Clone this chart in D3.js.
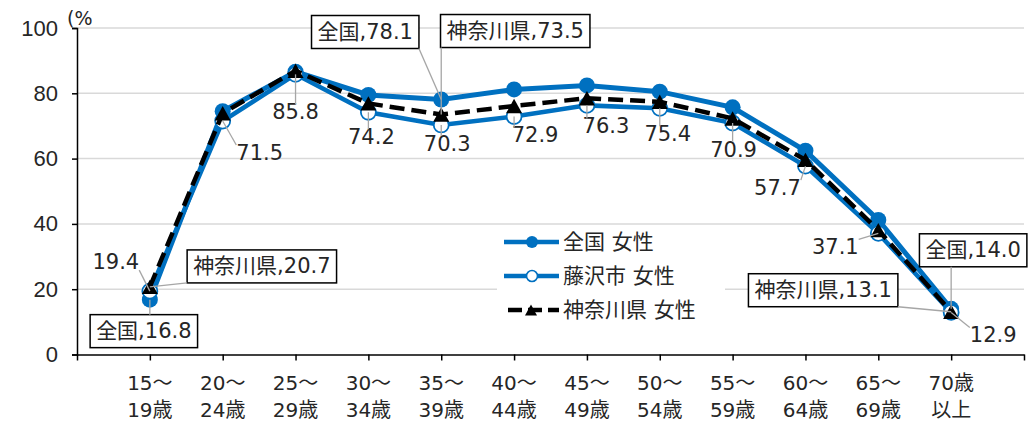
<!DOCTYPE html>
<html>
<head>
<meta charset="utf-8">
<script src="https://cdn.jsdelivr.net/npm/d3@7"></script>
<style>
  body { margin: 0; background: #fff; }
  svg { display: block; font-family: "DejaVu Sans", "Noto Sans CJK JP", sans-serif; }
</style>
</head>
<body>
<div id="chart"></div>
<script>
'use strict';

// age groups (two lines each)
var categories = ["15～\n19歳", "20～\n24歳", "25～\n29歳", "30～\n34歳", "35～\n39歳", "40～\n44歳",
  "45～\n49歳", "50～\n54歳", "55～\n59歳", "60～\n64歳", "65～\n69歳", "70歳\n以上"];

// labour force participation rate, women (%)
var zenkoku   = [16.8, 74.5, 86.6, 79.5, 78.1, 81.2, 82.4, 80.5, 75.7, 62.4, 41.2, 14.0];
var fujisawa  = [19.4, 71.5, 85.8, 74.2, 70.3, 72.9, 76.3, 75.4, 70.9, 57.7, 37.1, 12.9];
var kanagawa  = [20.7, 73.9, 86.9, 76.9, 73.5, 76.1, 78.5, 77.4, 72.3, 59.6, 38.1, 13.1];

var seriesNames = ["全国 女性", "藤沢市 女性", "神奈川県 女性"];
var yTicks = [0, 20, 40, 60, 80, 100];

// where the labels sit, relative to the point (text centre)
var fujisawaLabelPos = [[-34, -29], [37, 32], [0, 38], [3, 25], [6, 19], [21, 19],
  [19, 21], [8, 26], [1, 27], [-28, 22], [-43, 14], [42, 23]];
// boxed labels: [series, index, dx, dy]
var boxLabels = [
  ["全国", 0, -6, 31], ["神奈川県", 0, 112, -21],
  ["全国", 4, -76, -68], ["神奈川県", 4, 74, -84],
  ["全国", 11, 22, -59], ["神奈川県", 11, -128, -22]
];

var width = 1030, height = 423;
var margin = {top: 28, left: 77, right: 6, bottom: 68.5};

var x = d3.scaleLinear().domain([-1, 12]).range([margin.left, width - margin.right]);
var y = d3.scaleLinear().domain([0, 100]).range([height - margin.bottom, margin.top]);

var blue = "#0070C0";
var ink = "#262626";
var fontSize = 21;

var svg = d3.select("#chart").append("svg")
  .attr("width", width)
  .attr("height", height);

// gridlines
svg.append("g")
  .selectAll("line")
  .data(yTicks.filter(function(d) { return d > 0; }))
  .enter().append("line")
    .attr("x1", x(-1)).attr("x2", x(12))
    .attr("y1", function(d) { return y(d); })
    .attr("y2", function(d) { return y(d); })
    .attr("stroke", "#d9d9d9")
    .attr("stroke-width", 1.5);

// y axis
var yAxis = svg.append("g")
  .attr("transform", "translate(" + x(-1) + ",0)")
  .call(d3.axisLeft(y).tickValues(yTicks).tickSize(5).tickPadding(14));
yAxis.selectAll("text").attr("font-size", 22).attr("fill", ink).attr("font-family", null);
yAxis.selectAll("line, path").attr("stroke", "#000").attr("stroke-width", 1.5);

svg.append("text")
  .attr("x", 67).attr("y", 25)
  .attr("font-size", 19)
  .attr("fill", ink)
  .text("(%");

// x axis
var xAxis = svg.append("g")
  .attr("transform", "translate(0," + y(0) + ")")
  .call(d3.axisBottom(x).tickValues(d3.range(-1, 13)).tickSize(6).tickSizeOuter(0).tickFormat(""));
xAxis.selectAll("line, path").attr("stroke", "#000").attr("stroke-width", 1.5);

var xLabels = svg.append("g")
  .selectAll("g")
  .data(categories)
  .enter().append("g")
    .attr("transform", function(d, i) { return "translate(" + x(i) + "," + (y(0) + 35) + ")"; });

xLabels.selectAll("text")
  .data(function(d) { return d.split("\n"); })
  .enter().append("text")
    .attr("text-anchor", "middle")
    .attr("font-size", 20)
    .attr("fill", ink)
    .attr("y", function(d, i) { return i * 27; })
    .text(function(d) { return d; });

// lines
var line = d3.line()
  .x(function(d, i) { return x(i); })
  .y(function(d) { return y(d); });

function triangle(cx, cy, s) {
  var h = s * 0.9;
  return "M" + cx + "," + (cy - h / 2) + "L" + (cx + s / 2) + "," + (cy + h / 2) + "L" + (cx - s / 2) + "," + (cy + h / 2) + "Z";
}

// 全国
svg.append("path")
  .datum(zenkoku)
  .attr("fill", "none")
  .attr("stroke", blue)
  .attr("stroke-width", 5)
  .attr("d", line);
svg.append("g").selectAll("circle")
  .data(zenkoku)
  .enter().append("circle")
    .attr("cx", function(d, i) { return x(i); })
    .attr("cy", function(d) { return y(d); })
    .attr("r", 8)
    .attr("fill", blue);

// 藤沢市
svg.append("path")
  .datum(fujisawa)
  .attr("fill", "none")
  .attr("stroke", blue)
  .attr("stroke-width", 4.5)
  .attr("d", line);
svg.append("g").selectAll("circle")
  .data(fujisawa)
  .enter().append("circle")
    .attr("cx", function(d, i) { return x(i); })
    .attr("cy", function(d) { return y(d); })
    .attr("r", 7.5)
    .attr("fill", "#fff")
    .attr("stroke", blue)
    .attr("stroke-width", 1.8);

// 神奈川県
svg.append("path")
  .datum(kanagawa)
  .attr("fill", "none")
  .attr("stroke", "#000")
  .attr("stroke-width", 4.5)
  .attr("stroke-dasharray", "15,7")
  .attr("d", line);
svg.append("g").selectAll("path")
  .data(kanagawa)
  .enter().append("path")
    .attr("d", function(d, i) { return triangle(x(i), y(d), 16); })
    .attr("fill", "#000");

// leader line from the box edge to the point
function leader(g, px, py, bx0, by0, bx1, by1) {
  var lx = Math.max(bx0, Math.min(px, bx1));
  var ly = Math.max(by0, Math.min(py, by1));
  if (Math.hypot(px - lx, py - ly) < 9) return;
  g.append("line")
    .attr("x1", lx).attr("y1", ly)
    .attr("x2", px).attr("y2", py)
    .attr("stroke", "#a6a6a6")
    .attr("stroke-width", 1.3);
}

// 藤沢市 labels
var labels = svg.append("g");
fujisawa.forEach(function(v, i) {
  var px = x(i), py = y(v);
  var cx = px + fujisawaLabelPos[i][0], cy = py + fujisawaLabelPos[i][1];
  var t = labels.append("text")
    .attr("x", cx).attr("y", cy)
    .attr("text-anchor", "middle")
    .attr("dominant-baseline", "central")
    .attr("font-size", fontSize)
    .attr("fill", ink)
    .text(d3.format(".1f")(v));
  var bb = t.node().getBBox();
  leader(labels, px, py, bb.x, bb.y + 4, bb.x + bb.width, bb.y + bb.height - 4);
});

// boxed labels for 全国 / 神奈川県
boxLabels.forEach(function(b) {
  var vals = b[0] === "全国" ? zenkoku : kanagawa;
  var v = vals[b[1]];
  var px = x(b[1]), py = y(v);
  var cx = px + b[2], cy = py + b[3];
  var g = labels.append("g");
  var t = g.append("text")
    .attr("x", cx).attr("y", cy)
    .attr("text-anchor", "middle")
    .attr("dominant-baseline", "central")
    .attr("font-size", fontSize)
    .attr("fill", ink)
    .text(b[0] + "," + d3.format(".1f")(v));
  var bb = t.node().getBBox();
  var x0 = bb.x - 6, x1 = bb.x + bb.width + 6, y0 = cy - 16, y1 = cy + 17;
  leader(g, px, py, x0, y0, x1, y1);
  g.insert("rect", "text")
    .attr("x", x0).attr("y", y0)
    .attr("width", x1 - x0).attr("height", y1 - y0)
    .attr("fill", "#fff")
    .attr("stroke", "#000")
    .attr("stroke-width", 1.5);
});

// legend
var legend = svg.append("g");
legend.append("rect")
  .attr("x", 497).attr("y", 226)
  .attr("width", 228).attr("height", 102)
  .attr("fill", "#fff");

var legendRows = legend.selectAll("g")
  .data(seriesNames)
  .enter().append("g")
    .attr("transform", function(d, i) { return "translate(504," + (242 + i * 34) + ")"; });

legendRows.append("line")
  .attr("x1", 0).attr("x2", 55)
  .attr("stroke", function(d, i) { return i === 2 ? "#000" : blue; })
  .attr("stroke-width", 4.5)
  .attr("stroke-dasharray", function(d, i) { return i === 2 ? "14,6" : null; })
  .attr("stroke-dashoffset", -4);

legendRows.each(function(d, i) {
  var g = d3.select(this);
  if (i === 0) g.append("circle").attr("cx", 28).attr("r", 6).attr("fill", blue);
  if (i === 1) g.append("circle").attr("cx", 28).attr("r", 5.5).attr("fill", "#fff").attr("stroke", blue).attr("stroke-width", 1.6);
  if (i === 2) g.append("path").attr("d", triangle(27, 0, 12)).attr("fill", "#000");
});

legendRows.append("text")
  .attr("x", 59)
  .attr("dominant-baseline", "central")
  .attr("font-size", fontSize)
  .attr("fill", ink)
  .text(function(d) { return d; });
</script>
</body>
</html>
